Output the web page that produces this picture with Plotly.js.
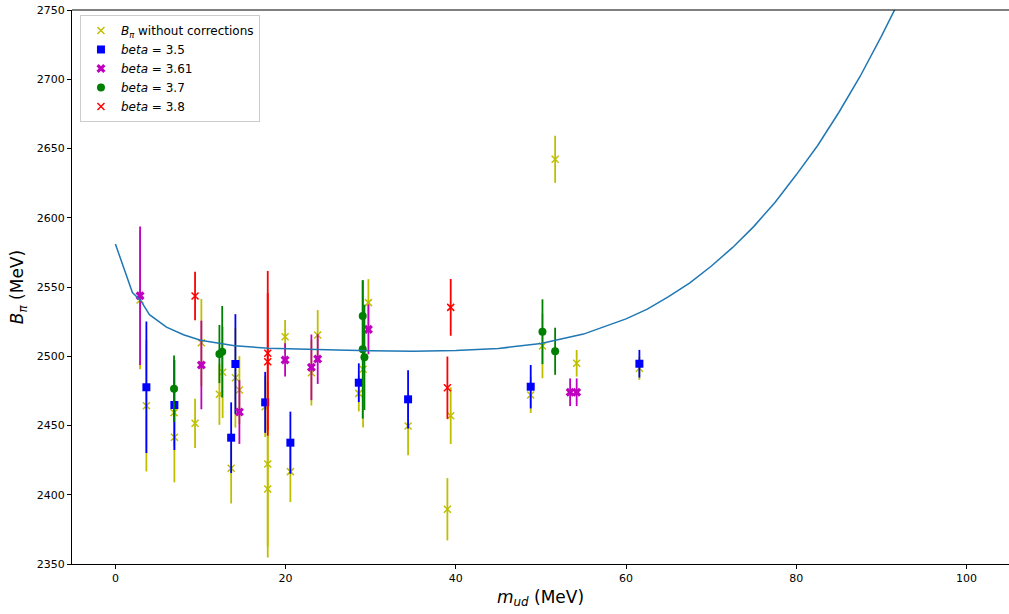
<!DOCTYPE html>
<html>
<head>
<meta charset="utf-8">
<script src="https://cdn.plot.ly/plotly-3.0.1.min.js"></script>
<style>html,body{margin:0;padding:0;background:#fff;}#chart{width:1009px;height:614px;}</style>
</head>
<body>
<div id="chart"></div>
<script>
// Without corrections (yellow)
const rawX   = [2.90, 3.64, 6.89, 6.93, 9.36, 10.1, 12.22, 12.6, 14.1, 14.57, 13.6, 17.9, 17.9, 17.6, 19.94, 20.56, 23.03, 23.77, 29.73, 29.1, 28.6, 34.39, 39.4, 39.01, 51.67, 50.18, 54.2, 48.8, 61.57];
const rawY   = [2540.6, 2464.3, 2459.3, 2441.5, 2451.6, 2509.8, 2472.5, 2488.4, 2484.5, 2475.6, 2419.1, 2422.2, 2404.2, 2463.6, 2514.1, 2416.7, 2488.1, 2515.3, 2538.7, 2490.6, 2473.2, 2449.6, 2457.1, 2389.5, 2642.2, 2507.4, 2494.9, 2472.0, 2491.3];
const rawErr = [50, 47.5, 24, 32.5, 17.8, 31.5, 22, 33, 36, 24.5, 25.4, 59.5, 49.5, 22, 12, 22, 23.7, 18, 17, 42, 13, 21, 20.5, 22.5, 17, 23.3, 9.6, 13, 8.4];

// beta = 3.5
const b35X   = [3.64, 6.93, 13.6, 14.1, 17.6, 20.56, 28.6, 34.39, 48.8, 61.57];
const b35Y   = [2477.6, 2464.8, 2441.2, 2494.4, 2466.7, 2437.6, 2480.9, 2468.9, 2478.0, 2494.6];
const b35Err = [47.5, 32.5, 25.5, 36, 22, 22.4, 14, 21, 15.7, 10];

// beta = 3.61
const b361X   = [2.90, 10.1, 14.57, 19.94, 23.03, 23.77, 29.73, 53.43, 54.2];
const b361Y   = [2543.7, 2493.7, 2459.7, 2497.3, 2492.0, 2498.0, 2519.4, 2474.0, 2474.0];
const b361Err = [50, 32, 23, 12, 23.7, 18, 18, 10, 10];

// beta = 3.7
const b37X   = [6.89, 12.22, 12.55, 29.06, 29.06, 29.26, 50.18, 51.67];
const b37Y   = [2476.6, 2501.6, 2503.3, 2529.1, 2505.0, 2499.2, 2517.7, 2503.6];
const b37Err = [24, 21, 33, 25.5, 50, 38, 23.4, 17];

// beta = 3.8
const b38X   = [9.36, 17.9, 17.9, 39.01, 39.4];
const b38Y   = [2543.5, 2502.1, 2496.0, 2477.3, 2535.3];
const b38Err = [17.5, 59.5, 49.5, 22.5, 20.5];

// Fit curve
const fitX = [0, 2, 3, 4, 6, 8, 10, 14, 18, 22, 26, 30, 35, 40, 45, 50, 55, 60, 62.5, 65, 67.5, 70, 72.5, 75, 77.5, 80, 82.5, 85, 87.5, 90, 92];
const fitY = [2581, 2546, 2540, 2530, 2521, 2515.5, 2511.5, 2507.5, 2505.8, 2505, 2504.5, 2504, 2503.7, 2504.2, 2505.6, 2509.2, 2516, 2527, 2534, 2543, 2553, 2565, 2578.4, 2593.6, 2611, 2631, 2652, 2676, 2702, 2731, 2755.5];

function errTrace(name, xs, ys, es, color, symbol, size, thin) {
  const marker = {color: color, size: size, symbol: symbol};
  if (thin) marker.line = {color: color, width: 1.5};
  return {
    type: 'scatter', mode: 'markers', name: name, x: xs, y: ys,
    marker: marker,
    error_y: {type: 'data', array: es, visible: true, color: color, thickness: 1.8, width: 0},
    cliponaxis: true
  };
}

const traces = [
  errTrace('<i>B</i><sub><i>π</i></sub> without corrections', rawX, rawY, rawErr, '#bfbf00', 'x-thin', 7, true),
  errTrace('<i>beta</i> = 3.5', b35X, b35Y, b35Err, '#0000ff', 'square', 8, false),
  errTrace('<i>beta</i> = 3.61', b361X, b361Y, b361Err, '#bf00bf', 'x', 8, false),
  errTrace('<i>beta</i> = 3.7', b37X, b37Y, b37Err, '#008000', 'circle', 8, false),
  errTrace('<i>beta</i> = 3.8', b38X, b38Y, b38Err, '#ff0000', 'x-thin', 7, true),
  {type: 'scatter', mode: 'lines', x: fitX, y: fitY, line: {color: '#1f77b4', width: 1.5}, showlegend: false, hoverinfo: 'skip'}
];

const layout = {
  width: 1009, height: 614,
  margin: {l: 72, r: 0, t: 10, b: 50},
  paper_bgcolor: '#fff', plot_bgcolor: '#fff',
  font: {family: 'DejaVu Sans', size: 11, color: '#000'},
  showlegend: true,
  legend: {
    x: 0.0085, y: 0.991, xanchor: 'left', yanchor: 'top',
    bgcolor: 'rgba(255,255,255,0.8)', bordercolor: '#cccccc', borderwidth: 1,
    font: {family: 'DejaVu Sans', size: 12, color: '#000'},
    tracegroupgap: 0, itemwidth: 30
  },
  xaxis: {
    range: [-5.1, 105.0], tickvals: [0, 20, 40, 60, 80, 100],
    showgrid: false, zeroline: false, showline: true, linecolor: '#000', linewidth: 1,
    ticks: 'outside', ticklen: 4, tickcolor: '#000', tickwidth: 1,
    tickfont: {family: 'DejaVu Sans', size: 11, color: '#000'},
    title: {text: '<i>m</i><sub><i>ud</i></sub> (MeV)', font: {family: 'DejaVu Sans', size: 17, color: '#000'}, standoff: 6}
  },
  yaxis: {
    range: [2350, 2750], tickvals: [2350, 2400, 2450, 2500, 2550, 2600, 2650, 2700, 2750],
    showgrid: false, zeroline: false, showline: true, linecolor: '#000', linewidth: 1,
    ticks: 'outside', ticklen: 4, tickcolor: '#000', tickwidth: 1,
    tickfont: {family: 'DejaVu Sans', size: 11, color: '#000'},
    title: {text: '<i>B</i><sub><i>π</i></sub> (MeV)', font: {family: 'DejaVu Sans', size: 17, color: '#000'}, standoff: 8}
  },
  shapes: [
    {type: 'line', xref: 'paper', yref: 'paper', x0: 0, x1: 1, y0: 1, y1: 1, line: {color: '#000', width: 1}}
  ]
};

Plotly.newPlot('chart', traces, layout, {displayModeBar: false, staticPlot: true});
</script>
</body>
</html>
